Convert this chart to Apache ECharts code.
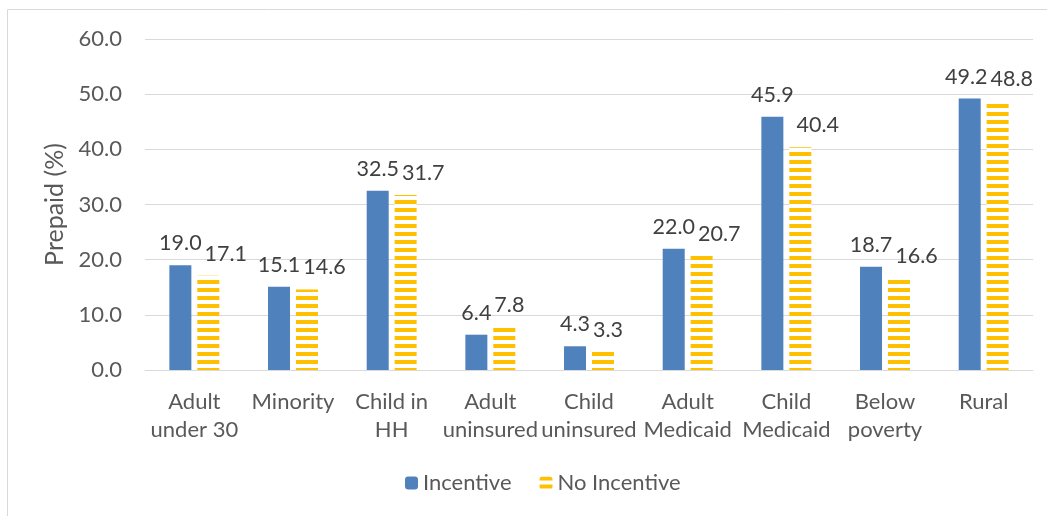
<!DOCTYPE html>
<html>
<head>
<meta charset="utf-8">
<script src="https://cdn.jsdelivr.net/npm/echarts@6/dist/echarts.min.js"></script>
<style>
html,body{margin:0;padding:0;background:#fff;}
#c{width:1047px;height:516px;}
</style>
</head>
<body>
<div id="c"></div>
<script>
const categories = ['Adult\nunder 30','Minority','Child in\nHH','Adult\nuninsured','Child\nuninsured','Adult\nMedicaid','Child\nMedicaid','Below\npoverty','Rural'];
const incentive = [19.0, 15.1, 32.5, 6.4, 4.3, 22.0, 45.9, 18.7, 49.2];
const noIncentive = [17.1, 14.6, 31.7, 7.8, 3.3, 20.7, 40.4, 16.6, 48.8];
const yTicks = {min: 0, max: 60, interval: 10};

const FONT = 'Lato';
const LABEL_SIZE = 21.5;
const W = 1047, GRID_L = 145, GRID_R = 14;
const BAR_W = 22, BAR_GAP = 0.27;

// Excel-like data label collision avoidance: push the second label right if it
// would collide with the first; keep the pair inside the plot area.
const mctx = document.createElement('canvas').getContext('2d');
mctx.font = LABEL_SIZE + 'px ' + FONT;
const tw = s => mctx.measureText(s).width;
const catW = (W - GRID_L - GRID_R) / categories.length;
const pitch = BAR_W * (1 + BAR_GAP);
const dxB = [], dxY = [];
categories.forEach((c, i) => {
  const a = tw(incentive[i].toFixed(1)), b = tw(noIncentive[i].toFixed(1));
  let sy = Math.max(0, (a + b) / 2 + 3 - pitch);
  let sb = 0;
  const yc = GRID_L + catW * (i + 0.5) + pitch / 2 + sy;
  const over = yc + b / 2 - (W - GRID_R);
  if (over > 0) { sy -= over; sb -= over; }
  dxB.push(sb); dxY.push(sy);
});

const chart = echarts.init(document.getElementById('c'));
const labelBase = {show: true, position: 'top', distance: 11, color: '#404040', fontSize: LABEL_SIZE, fontFamily: FONT, formatter: p => p.value.toFixed(1)};
chart.setOption({
  animation: false,
  graphic: [{type: 'rect', shape: {x: 7.5, y: 9.5, width: 1200, height: 700}, style: {fill: null, stroke: '#d9d9d9', lineWidth: 1}, silent: true}],
  grid: {left: GRID_L, right: GRID_R, top: 39, bottom: 146},
  legend: {
    bottom: 17, left: 400, itemGap: 28, itemWidth: 13, itemHeight: 13,
    textStyle: {color: '#595959', fontSize: 22, fontFamily: FONT},
    data: ['Incentive', 'No Incentive']
  },
  xAxis: {
    type: 'category', data: categories,
    axisLine: {lineStyle: {color: '#d9d9d9', width: 1}},
    axisTick: {show: false},
    axisLabel: {color: '#595959', fontSize: 22, fontFamily: FONT, lineHeight: 28, margin: 18, interval: 0}
  },
  yAxis: {
    type: 'value', min: yTicks.min, max: yTicks.max, interval: yTicks.interval,
    name: 'Prepaid (%)', nameLocation: 'middle', nameGap: 73, nameRotate: 90,
    nameTextStyle: {color: '#595959', fontSize: 25, fontFamily: FONT},
    axisLine: {show: false}, axisTick: {show: false},
    axisLabel: {color: '#595959', fontSize: 22, fontFamily: FONT, margin: 23, formatter: v => v.toFixed(1)},
    splitLine: {lineStyle: {color: '#d9d9d9', width: 1}}
  },
  series: [
    {name: 'Incentive', type: 'bar', barWidth: BAR_W, barGap: (BAR_GAP * 100) + '%',
     data: incentive.map((v, i) => ({value: v, label: {offset: [dxB[i], 0]}})),
     itemStyle: {color: '#4F81BD'}, label: labelBase},
    {name: 'No Incentive', type: 'bar', barWidth: BAR_W,
     data: noIncentive.map((v, i) => ({value: v, label: {offset: [dxY[i], 0]}})),
     itemStyle: {color: '#ffffff', decal: {symbol: 'rect', symbolSize: 1, dashArrayX: [1, 0], dashArrayY: [4, 4], rotation: 0, color: '#FFC000'}},
     label: labelBase}
  ]
});
</script>
</body>
</html>
